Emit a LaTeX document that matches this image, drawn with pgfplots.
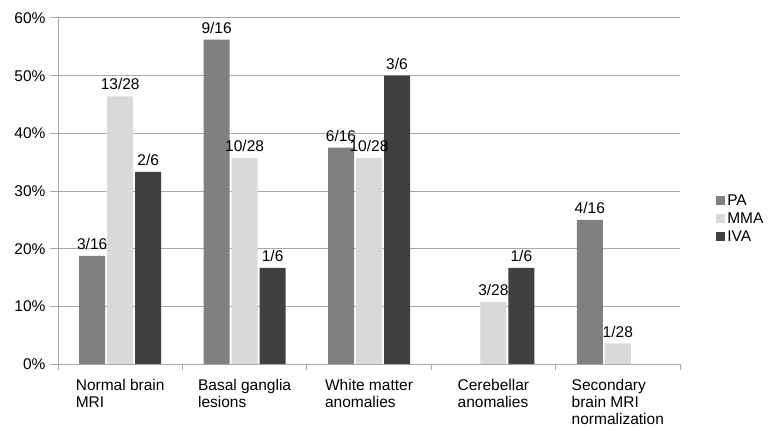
\documentclass[border=0pt]{standalone}
\usepackage{fontspec}
\setmainfont{Liberation Sans}
\usepackage{pgfplots}
\pgfplotsset{compat=1.18}
\definecolor{paC}{HTML}{808080}
\definecolor{mmaC}{HTML}{D9D9D9}
\definecolor{ivaC}{HTML}{404040}
\definecolor{gridC}{HTML}{A8A8A8}
\newcommand{\chartfont}{\fontsize{15.5bp}{17bp}\selectfont}
\begin{document}
\begin{tikzpicture}[font=\chartfont]
 \begin{axis}[
   width=622bp, height=346bp, scale only axis,
   ybar=2bp, bar width=26bp,
   xmin=-0.5, xmax=4.5, ymin=0, ymax=60,
   axis x line*=bottom, axis y line*=left,
   axis line style={gridC, line width=1pt},
   ytick={0,10,...,60},
   yticklabels={0\%,10\%,20\%,30\%,40\%,50\%,60\%},
   ymajorgrids, major grid style={gridC, line width=1pt},
   xtick={0,...,4},
   xticklabels={Normal brain\\MRI, Basal ganglia\\lesions, White matter\\anomalies,
                Cerebellar\\anomalies, Secondary\\brain MRI\\normalization},
   minor xtick={-0.5,0.5,...,4.5},
   tick align=outside,
   major tick length=8bp, minor tick length=6bp,
   y tick style={gridC, line width=1pt},
   x tick style={draw=none},
   minor x tick style={draw=gridC, line width=1pt},
   xticklabel style={align=left, font=\chartfont, yshift=-4bp},
   yticklabel style={font=\chartfont, xshift=-1bp},
   point meta=explicit symbolic,
   nodes near coords,
   nodes near coords style={font=\chartfont, inner sep=1bp, yshift=5bp},
   legend style={at={(1.058,0.42)}, anchor=west, draw=none, fill=none,
                 font=\chartfont, row sep=2bp, inner sep=0bp},
   legend cell align=left,
   legend image code/.code={\fill[#1] (0bp,-4.5bp) rectangle (9bp,4.5bp);},
 ]
   \addplot[fill=paC, draw=none] coordinates {
     (0,18.75)[3/16]
     (1,56.25)[9/16]
     (2,37.5)[6/16]
     (4,25)[4/16]
   };
   \addlegendentry{PA}
   \addplot[fill=mmaC, draw=none] coordinates {
     (0,46.43)[13/28]
     (1,35.71)[10/28]
     (2,35.71)[10/28]
     (3,10.71)[3/28]
     (4,3.57)[1/28]
   };
   \addlegendentry{MMA}
   \addplot[fill=ivaC, draw=none] coordinates {
     (0,33.33)[2/6]
     (1,16.67)[1/6]
     (2,50)[3/6]
     (3,16.67)[1/6]
   };
   \addlegendentry{IVA}
 \end{axis}
 \pgfresetboundingbox
 \path[use as bounding box] (-58bp,-67bp) rectangle (714bp,364bp);
\end{tikzpicture}
\end{document}
